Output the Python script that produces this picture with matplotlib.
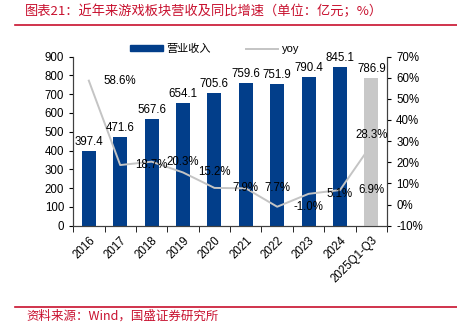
import matplotlib
matplotlib.use("Agg")
import matplotlib.pyplot as plt
from matplotlib.lines import Line2D
from matplotlib.patches import Patch
import numpy as np

plt.rcParams["font.family"] = ["Liberation Sans", "Noto Sans CJK SC"]

years = ["2016", "2017", "2018", "2019", "2020", "2021", "2022", "2023",
         "2024", "2025Q1-Q3"]
revenue = [397.4, 471.6, 567.6, 654.1, 705.6, 759.6, 751.9, 790.4, 845.1,
           786.9]
yoy = [58.6, 18.7, 20.3, 15.2, 7.9, 7.7, -1.0, 5.1, 6.9, 28.3]

blue = "#023E8A"
grey_bar = "#C8C8C8"
grey_line = "#C4C4C4"
red = "#C8102E"
fs = 8.3

fig = plt.figure(figsize=(4.57, 3.23), dpi=100)
ax = fig.add_axes([0.160, 0.301, 0.687, 0.524])
ax2 = ax.twinx()

x = np.arange(len(years))
colors = [blue] * (len(years) - 1) + [grey_bar]
bars = ax.bar(x, revenue, width=0.45, color=colors, zorder=2)
# last bar sits on top of the yoy line
bars[-1].set_zorder(4)

ax.set_ylim(0, 900)
ax.set_yticks(range(0, 901, 100))
ax2.set_ylim(-10, 70)
ax2.set_yticks(range(-10, 71, 10))
ax2.set_yticklabels(["%d%%" % v for v in range(-10, 71, 10)])
ax.set_xlim(-0.5, len(years) - 0.5)

# yoy line drawn in ax (secondary scale) so the grey bar can cover it
ax.plot(x, yoy, color=grey_line, lw=1.4, zorder=3, transform=ax2.transData)

for xi, v in zip(x, revenue):
    ax.text(xi, v + 17, "%.1f" % v, ha="center", va="bottom", fontsize=fs,
            zorder=5)

# yoy labels are shifted one category to the right in the original
for i, v in enumerate(yoy[:-1]):
    ax2.text(i + 1, v, "%.1f%%" % v, ha="center", va="center", fontsize=fs,
             zorder=5)
ax2.text(len(yoy) - 1, yoy[-1] + 4.5, "%.1f%%" % yoy[-1], ha="center",
         va="center", fontsize=fs, zorder=5)

ax.set_xticks(x)
ax.set_xticklabels(years, rotation=45, ha="right", rotation_mode="anchor",
                   fontsize=fs)
ax.set_xticks(np.arange(-0.5, len(years)), minor=True)
ax.tick_params(axis="x", which="major", length=0, pad=6)
ax.tick_params(axis="x", which="minor", length=4, direction="out")
ax.tick_params(axis="y", length=3, direction="out", labelsize=fs)
ax2.tick_params(axis="y", length=3, direction="out", labelsize=fs)

for a in (ax, ax2):
    a.spines["top"].set_visible(False)
    for s in ("left", "right", "bottom"):
        a.spines[s].set_color("#404040")
        a.spines[s].set_linewidth(0.8)

handles = [Patch(color=blue), Line2D([], [], color=grey_line, lw=1.4)]
fig.legend(handles, ["营业收入", "yoy"], ncol=2, frameon=False,
           loc="center", bbox_to_anchor=(0.47, 0.848), fontsize=8,
           handlelength=2.9, handleheight=0.5, columnspacing=3.2,
           handletextpad=0.3)

fig.text(0.055, 0.964, "图表21：近年来游戏板块营收及同比增速（单位：亿元；%）",
         color=red, fontsize=9.5, va="center", style="italic",
         family=["Noto Sans CJK SC", "DejaVu Sans"])
fig.add_artist(Line2D([0.033, 1.0], [0.922, 0.922], color=red, lw=1.2))
fig.add_artist(Line2D([0.033, 1.0], [0.051, 0.051], color=red, lw=1.2))
fig.text(0.058, 0.022, "资料来源：Wind，国盛证券研究所", color=red,
         fontsize=9, va="center", style="italic",
         family=["Noto Sans CJK SC", "DejaVu Sans"])

fig.savefig("out.png", dpi=100)
